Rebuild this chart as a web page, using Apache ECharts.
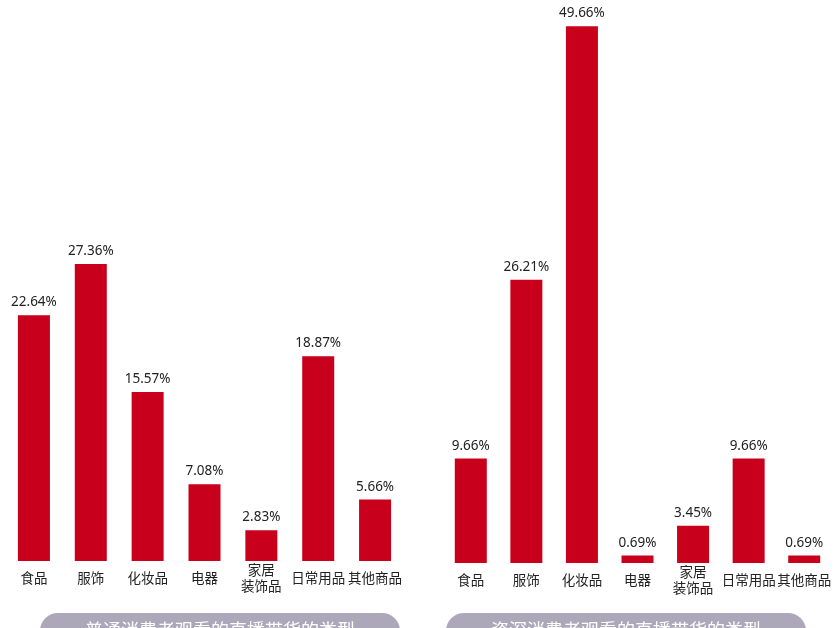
<!DOCTYPE html>
<html><head><meta charset="utf-8">
<style>html,body{margin:0;padding:0;background:#fff;}#c{width:840px;height:628px;}</style>
<script src="https://cdn.jsdelivr.net/npm/echarts@6/dist/echarts.min.js"></script>
</head><body><div id="c"></div>
<script>
const categories = ['食品','服饰','化妆品','电器','家居\n装饰品','日常用品','其他商品'];
const ordinaryValues = [22.64, 27.36, 15.57, 7.08, 2.83, 18.87, 5.66];
const seniorValues = [9.66, 26.21, 49.66, 0.69, 3.45, 9.66, 0.69];
const titles = ['普通消费者观看的直播带货的类型', '资深消费者观看的直播带货的类型'];

const FONT = "'Noto Sans CJK SC', 'Noto Sans', sans-serif";
const NUMFONT = "'Noto Sans', 'Noto Sans CJK SC', sans-serif";
const RED = '#c9001b';
const chart = echarts.init(document.getElementById('c'));

function xAxis(idx){
  return {
    type:'category', gridIndex:idx, data:categories,
    axisLine:{show:false}, axisTick:{show:false},
    axisLabel:{interval:0, color:'#222', fontSize:13.5, fontFamily:FONT, margin:17, verticalAlign:'middle', lineHeight:16}
  };
}
function yAxis(idx){
  return {type:'value', gridIndex:idx, min:0, max:50, show:false, splitLine:{show:false}};
}
function series(idx, data){
  return {
    type:'bar', xAxisIndex:idx, yAxisIndex:idx, data:data, barWidth:32,
    itemStyle:{color:RED},
    label:{show:true, position:'top', distance:6, color:'#222', fontSize:13.5, fontFamily:NUMFONT,
      formatter:p=>p.value.toFixed(2)+'%'}
  };
}

chart.setOption({
  animation:false,
  grid:[
    {left:5.5, width:398, top:18.3, bottom:67},
    {left:443, width:389, top:22.5, bottom:65}
  ],
  xAxis:[xAxis(0), xAxis(1)],
  yAxis:[yAxis(0), yAxis(1)],
  series:[series(0, ordinaryValues), series(1, seniorValues)],
  graphic:[
    {type:'rect', shape:{x:40, y:613, width:360, height:40, r:18}, style:{fill:'#aca8ba'}},
    {type:'text', x:220, y:630, style:{text:titles[0], fill:'#fff', fontSize:18, fontFamily:FONT, align:'center', verticalAlign:'middle'}},
    {type:'rect', shape:{x:446, y:613, width:360, height:40, r:18}, style:{fill:'#aca8ba'}},
    {type:'text', x:626, y:630, style:{text:titles[1], fill:'#fff', fontSize:18, fontFamily:FONT, align:'center', verticalAlign:'middle'}}
  ]
});
</script></body></html>
